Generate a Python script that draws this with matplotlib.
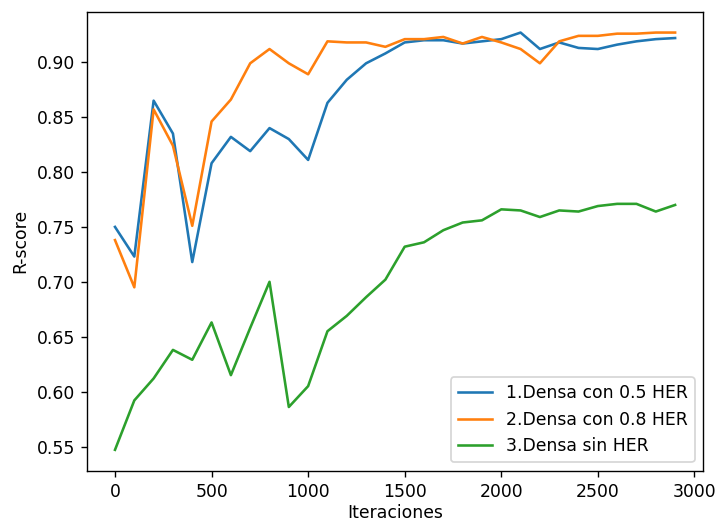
import numpy as np
import matplotlib
matplotlib.use('Agg')
import matplotlib.pyplot as plt

iteraciones = np.arange(0, 3000, 100)

densa_05 = [0.750, 0.723, 0.865, 0.835, 0.718, 0.808, 0.832, 0.819, 0.840, 0.830,
            0.811, 0.863, 0.884, 0.899, 0.908, 0.918, 0.920, 0.920, 0.917, 0.919,
            0.921, 0.927, 0.912, 0.918, 0.913, 0.912, 0.916, 0.919, 0.921, 0.922]

densa_08 = [0.738, 0.695, 0.857, 0.824, 0.751, 0.846, 0.866, 0.899, 0.912, 0.899,
            0.889, 0.919, 0.918, 0.918, 0.914, 0.921, 0.921, 0.923, 0.917, 0.923,
            0.918, 0.912, 0.899, 0.919, 0.924, 0.924, 0.926, 0.926, 0.927, 0.927]

densa_sin = [0.547, 0.592, 0.612, 0.638, 0.629, 0.663, 0.615, 0.658, 0.700, 0.586,
             0.605, 0.655, 0.669, 0.686, 0.702, 0.732, 0.736, 0.747, 0.754, 0.756,
             0.766, 0.765, 0.759, 0.765, 0.764, 0.769, 0.771, 0.771, 0.764, 0.770]

dpi = 124
fig = plt.figure(figsize=(716 / dpi, 522 / dpi), dpi=dpi)
ax = fig.add_axes([0.1215, 0.0983, 0.8605, 0.8793])

ax.plot(iteraciones, densa_05, label='1.Densa con 0.5 HER')
ax.plot(iteraciones, densa_08, label='2.Densa con 0.8 HER')
ax.plot(iteraciones, densa_sin, label='3.Densa sin HER')

ax.set_xlabel('Iteraciones', labelpad=2)
ax.set_ylabel('R-score')
ax.legend(loc='lower right')

plt.savefig('out.png', dpi=dpi)
plt.close()
